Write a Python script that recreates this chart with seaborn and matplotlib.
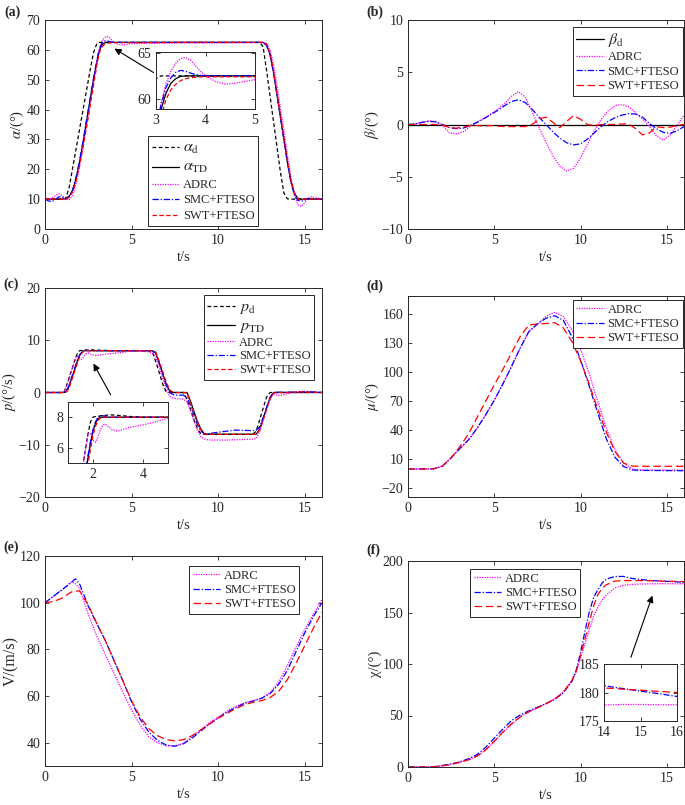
import numpy as np
import pandas as pd
import matplotlib
matplotlib.use("Agg")
import matplotlib.pyplot as plt
import seaborn as sns

# ---------------- data ----------------
# (a) angle of attack
t_a = [0, 0.2, 0.4, 0.6, 0.8, 1.0, 1.2, 1.4, 1.6, 1.8, 2.0, 2.2, 2.4, 2.6, 2.8, 3.0,
       3.1, 3.2, 3.3, 3.4, 3.5, 3.6, 3.7, 3.8, 3.9, 4.0,
       4.2, 4.4, 4.6, 4.8, 5.0, 6.0, 8.0, 10.0, 12.0,
       12.4, 12.6, 12.8, 13.0, 13.2, 13.4, 13.6, 13.8, 14.0, 14.2, 14.4, 14.6, 14.8,
       15.0, 15.2, 15.4, 15.6, 16.0]
alpha_d = [10, 10, 10, 10, 10, 10, 10.3, 14, 20.5, 27, 33.5, 40, 46.5, 53, 59, 62.2,
           62.5, 62.5, 62.5, 62.5, 62.5, 62.5, 62.5, 62.5, 62.5, 62.5,
           62.5, 62.5, 62.5, 62.5, 62.5, 62.5, 62.5, 62.5, 62.5,
           62.5, 61, 53, 44.5, 36, 27.5, 19, 12, 10.1, 10, 10, 10, 10,
           10, 10, 10, 10, 10]
alpha_TD = [10, 10, 10, 10, 10, 10, 10.2, 11, 13, 17, 22.5, 29, 36, 43, 50, 56,
            58.8, 60.6, 61.7, 62.2, 62.45, 62.5, 62.5, 62.5, 62.5, 62.5,
            62.5, 62.5, 62.5, 62.5, 62.5, 62.5, 62.5, 62.5, 62.5,
            62.5, 62.5, 61.6, 58.5, 52.5, 45, 37.5, 30, 22.5, 16, 12, 10.3, 10,
            10, 10, 10, 10, 10]
alpha_adrc = [10, 10, 10.3, 11.2, 11.8, 11.2, 10.0, 9.8, 11.3, 15.3, 21, 27.5, 34.5, 41.5, 49, 56.5,
              59.5, 61.6, 63.0, 63.9, 64.4, 64.5, 64.2, 63.6, 63.0, 62.5,
              61.9, 61.6, 61.7, 61.9, 62.1, 62.2, 62.3, 62.3, 62.4,
              62.5, 62.5, 62.0, 60, 55, 48, 40.5, 33, 25, 17.5, 11.5, 8.2, 7.5,
              8.8, 10.4, 10.8, 10.5, 10]
alpha_smc = [10, 9.4, 9.2, 9.9, 10.8, 10.7, 10.0, 10.9, 13.2, 17.5, 23, 29.5, 36.5, 43.5, 50.5, 56.5,
             59.3, 61.2, 62.3, 62.9, 63.1, 63.0, 62.8, 62.65, 62.55, 62.5,
             62.5, 62.5, 62.5, 62.5, 62.5, 62.5, 62.5, 62.5, 62.5,
             62.5, 62.4, 61.5, 58.3, 52.3, 44.8, 37.3, 29.8, 22.3, 15.8, 11.5, 9.6, 9.3,
             9.7, 10.2, 10.1, 10, 10]
alpha_swt = [10, 10, 10, 10, 10, 10, 10.0, 10.6, 12.5, 16.2, 21.3, 27.5, 34, 41, 48, 55,
             58.0, 59.9, 61.0, 61.6, 62.0, 62.2, 62.3, 62.35, 62.4, 62.4,
             62.4, 62.4, 62.4, 62.4, 62.4, 62.45, 62.5, 62.5, 62.5,
             62.5, 62.5, 62.0, 59, 53, 45.5, 38, 30.5, 23, 16.5, 12.3, 10.2, 9.8,
             10, 10, 10, 10, 10]

# (b) sideslip angle
t_b = [0, 0.4, 0.8, 1.2, 1.6, 2.0, 2.4, 2.8, 3.2, 3.6, 4.0, 4.4, 4.8, 5.2, 5.6, 6.0,
       6.4, 6.8, 7.2, 7.6, 8.0, 8.4, 8.8, 9.2, 9.6, 10.0, 10.4, 10.8, 11.2, 11.6,
       12.0, 12.4, 12.8, 13.2, 13.6, 14.0, 14.4, 14.8, 15.2, 15.6, 16.0]
t_bd = [0, 16]
beta_d = [0, 0]
beta_adrc = [0, 0.05, 0.2, 0.35, 0.3, -0.1, -0.8, -0.9, -0.7, -0.2, 0.25, 0.6, 1.0, 1.45, 2.0, 2.7,
             3.15, 2.6, 1.2, -0.3, -1.7, -3.0, -4.0, -4.45, -4.2, -3.2, -1.9, -0.6, 0.5, 1.3,
             1.8, 1.9, 1.7, 1.1, 0.5, -0.2, -1.1, -1.5, -1.0, -0.1, 0.9]
beta_smc = [0, 0.05, 0.2, 0.3, 0.25, 0.0, -0.3, -0.4, -0.35, -0.1, 0.2, 0.55, 0.95, 1.35, 1.8, 2.2,
            2.37, 2.1, 1.45, 0.7, 0.0, -0.7, -1.3, -1.75, -1.95, -1.85, -1.4, -0.8, -0.2, 0.3,
            0.65, 0.9, 1.03, 1.0, 0.7, 0.1, -0.4, -0.75, -0.85, -0.6, -0.2]
beta_swt = [0, 0, 0, 0, 0, -0.05, -0.3, -0.35, -0.25, -0.1, -0.1, -0.15, -0.1, -0.15, -0.2, -0.2,
            -0.2, -0.2, 0.0, 0.55, 0.7, 0.2, -0.3, 0.3, 0.85, 0.5, 0.0, -0.1, 0.0, 0.0,
            0.0, 0.05, 0.05, -0.4, -1.0, -0.8, -0.2, -0.3, -0.25, -0.1, 0.0]

# (c) roll rate
t_c = [0, 0.5, 1.0, 1.1, 1.2, 1.3, 1.4, 1.5, 1.6, 1.7, 1.8, 1.9, 2.0, 2.1, 2.2, 2.3, 2.4, 2.5, 2.6,
       2.8, 3.0, 3.2, 3.5, 4.0, 4.5, 5.0, 5.5, 6.0,
       6.2, 6.4, 6.6, 6.8, 7.0, 7.2, 7.4, 7.6, 7.8, 8.0, 8.2, 8.4, 8.6, 8.8, 9.0, 9.2, 9.4, 9.6,
       10.0, 10.5, 11.0, 11.5, 12.0,
       12.2, 12.4, 12.6, 12.8, 13.0, 13.2, 13.4, 13.6,
       14.0, 14.5, 15.0, 15.5, 16.0]
p_d = [0, 0, 0, 0.1, 0.9, 1.9, 2.9, 3.9, 4.9, 5.9, 6.9, 7.7, 8.0, 8.05, 8.05, 8.1, 8.1, 8.12, 8.15,
       8.15, 8.12, 8.1, 8.05, 8.0, 8.0, 8.0, 8.0, 8.0,
       7.8, 5.9, 3.8, 1.6, 0.1, 0, 0, 0, 0, 0, -1.3, -3.2, -5.2, -6.9, -7.9, -8.0, -8.0, -8.0,
       -8, -8, -8, -8, -8,
       -7.4, -5.2, -3.0, -0.9, 0, 0, 0, 0,
       0, 0, 0, 0, 0]
p_TD = [0, 0, 0, 0, 0.1, 0.5, 1.3, 2.3, 3.3, 4.3, 5.3, 6.3, 7.1, 7.6, 7.9, 8.0, 8.0, 8.0, 8.0,
        8.0, 8.0, 8.0, 8.0, 8.0, 8.0, 8.0, 8.0, 8.0,
        8.0, 7.5, 5.6, 3.6, 1.6, 0.3, 0, 0, 0, 0, 0, -1.6, -3.6, -5.5, -7.0, -7.9, -8.0, -8.0,
        -8, -8, -8, -8, -8,
        -8, -7.0, -5.0, -3.0, -1.0, 0, 0, 0,
        0, 0, 0, 0, 0]
p_adrc = [0, 0, 0, 0.1, 0.7, 1.7, 2.8, 3.9, 4.9, 5.9, 6.9, 6.9, 6.5, 6.35, 6.7, 7.2, 7.5, 7.55, 7.4,
          7.15, 7.1, 7.2, 7.35, 7.5, 7.7, 7.95, 7.95, 7.75,
          7.5, 6.8, 4.8, 2.6, 0.6, -0.7, -1.1, -1.2, -1.2, -1.3, -1.8, -3.5, -5.4, -7.2, -8.4, -8.9, -9.05, -9.1,
          -9.1, -9.1, -9.05, -9.0, -8.9,
          -8.8, -7.5, -5.4, -3.3, -1.3, -0.3, -0.5, -0.6,
          -0.2, 0.1, 0.1, 0.05, 0]
p_smc = [0, 0, 0, 0, 0.2, 0.7, 1.5, 2.5, 3.5, 4.5, 5.5, 6.4, 7.2, 7.7, 8.0, 8.1, 8.1, 8.05, 8.0,
         8.0, 8.0, 8.0, 8.0, 8.0, 8.0, 8.0, 8.0, 8.0,
         7.95, 7.6, 5.7, 3.6, 1.4, 0.0, -0.4, -0.5, -0.5, -0.5, -1.0, -2.4, -4.3, -6.1, -7.4, -7.9, -7.9, -7.8,
         -7.6, -7.4, -7.2, -7.25, -7.3,
         -7.2, -6.6, -4.8, -2.8, -0.9, 0, 0.05, 0.05,
         0.05, 0.1, 0.2, 0.1, 0.05]
p_swt = [0, 0, 0, 0, 0.05, 0.3, 1.0, 1.9, 2.9, 3.9, 4.9, 5.9, 6.8, 7.4, 7.8, 7.95, 8.0, 8.0, 8.0,
         8.0, 8.0, 8.0, 8.0, 8.0, 8.0, 8.0, 8.0, 8.0,
         8.0, 7.7, 6.0, 4.0, 2.0, 0.5, 0.05, 0, 0, 0, -0.1, -1.8, -3.8, -5.7, -7.2, -7.9, -8.0, -8.0,
         -8, -8, -8, -8, -8,
         -8.0, -7.2, -5.3, -3.2, -1.2, -0.1, 0, 0,
         0, 0.1, 0.15, 0.05, 0]

# (d) bank angle
t_d = [0, 0.5, 1, 1.5, 2, 2.5, 3, 3.5, 4, 4.5, 5, 5.5, 6, 6.5, 7, 7.5, 8, 8.5,
       9, 9.5, 10, 10.5, 11, 11.5, 12, 12.5, 13, 13.5, 14, 14.5, 15, 15.5, 16]
mu_adrc = [0, 0, 0, 0.2, 3, 11.5, 21, 30, 42, 56, 71, 88, 106, 125, 142, 150, 158, 162,
           158, 144, 124, 99, 70, 42, 20, 6, 0, -1, -1.2, -1.2, -1.2, -1.2, -1.2]
mu_smc = [0, 0, 0, 0.2, 3, 11.5, 21, 30, 42, 56, 71, 88, 106, 125, 142, 150, 156, 158.5,
          154, 137, 113, 86, 58, 31, 12, 2.5, -1, -1.5, -1.5, -1.6, -1.7, -1.7, -1.8]
mu_swt = [0, 0, 0, 0.2, 3, 11.5, 23, 36, 53, 70, 87, 103, 120, 137, 149, 150, 150.5, 151.5,
          146, 132, 112, 88, 62, 38, 18, 6, 3, 2.8, 2.8, 2.8, 2.8, 2.8, 2.8]

# (e) velocity
t_e = [0, 0.5, 1, 1.5, 1.75, 2, 2.5, 3, 3.5, 4, 4.5, 5, 5.5, 6, 6.5, 7, 7.5, 8, 8.5,
       9, 9.5, 10, 10.5, 11, 11.5, 12, 12.5, 13, 13.5, 14, 14.5, 15, 15.5, 16]
V_adrc = [100, 102.8, 105.6, 108.8, 108.3, 106, 95, 85.5, 77.5, 69.5, 61.5, 54, 47.5, 42.5, 40,
          38.6, 38.5, 39.8, 42.5, 45.5, 48.5, 51, 53.5, 55.5, 57, 58, 59, 61.5, 66, 73, 81,
          88.5, 95, 101.5]
V_smc = [100, 102.8, 105.6, 108.5, 110.2, 108, 98.5, 91, 83.5, 75, 66.5, 57.5, 50, 44.5, 41,
         39, 38.5, 39.5, 42, 45, 48, 50.5, 53, 55, 56.8, 57.8, 59, 61, 65, 71, 79,
         87, 94, 100]
V_swt = [100, 100.5, 102, 104.5, 105, 105, 99, 91, 83.5, 75, 66.5, 58, 51, 46, 43,
         41.3, 40.8, 41.3, 43, 45.5, 48, 50.5, 52.5, 54.5, 56.2, 57.3, 58, 59.3, 62, 67, 74,
         81.5, 89, 96]

# (f) heading angle
t_f = [0, 0.5, 1, 1.5, 2, 2.5, 3, 3.5, 4, 4.5, 5, 5.5, 6, 6.5, 7, 7.5, 8, 8.5, 9,
       9.5, 9.75, 10, 10.25, 10.5, 10.75, 11, 11.25, 11.5,
       12, 12.5, 13, 13.5, 14, 14.5, 15, 15.5, 16]
chi_adrc = [0, 0, 0, 0.2, 1.2, 2.5, 4.5, 7, 10.5, 16.5, 24.5, 33.5, 41.5, 48.5, 53.5, 57.5, 61.5, 66, 72.5,
            84, 92, 106, 119, 133, 146, 155, 162, 167,
            174, 176.5, 177.3, 177.7, 177.8, 177.9, 177.9, 177.85, 177.85]
chi_smc = [0, 0, 0, 0.3, 1.5, 3, 5, 8, 12, 19, 28, 37, 45, 50.5, 54.5, 58, 61.5, 65.5, 72,
           83, 94, 111, 131, 150, 164, 172, 178.5, 182.5,
           185, 185, 183, 182, 181.2, 180.7, 180.25, 179.8, 179.3]
chi_swt = [0, 0, 0, 0.2, 1.2, 2.5, 4.5, 7, 10.5, 16.5, 25, 34, 42, 48.5, 53.5, 57.5, 61.5, 66, 72.5,
           84, 93, 108, 124, 140, 156, 167, 173.5, 177,
           180.5, 181, 181, 181, 180.8, 180.6, 180.4, 180.2, 180.0]

# ---------------- style ----------------
sns.set_theme(style="ticks")
plt.rcParams.update({
    "font.family": ["Liberation Serif", "DejaVu Serif"],
    "mathtext.fontset": "stix",
    "font.size": 10,
    "axes.linewidth": 0.7,
    "axes.edgecolor": "#262626",
    "xtick.direction": "in",
    "ytick.direction": "in",
    "xtick.top": True,
    "ytick.right": True,
    "xtick.major.size": 3,
    "ytick.major.size": 3,
    "xtick.major.width": 0.6,
    "ytick.major.width": 0.6,
    "xtick.labelsize": 10,
    "ytick.labelsize": 10,
    "xtick.color": "#262626",
    "ytick.color": "#262626",
    "axes.labelsize": 10.5,
    "axes.labelcolor": "#262626",
})

LW = 0.9
S_D = dict(color="black", linestyle=(0, (3, 2)), linewidth=LW)
S_TD = dict(color="black", linestyle="-", linewidth=LW)
S_ADRC = dict(color="#FF00FF", linestyle=(0, (1, 1)), linewidth=LW)
S_SMC = dict(color="#0000FF", linestyle=(0, (5, 1.5, 1, 1.5)), linewidth=LW)
S_SWT = dict(color="#FF0000", linestyle=(0, (3.5, 2)), linewidth=LW)
S_SWT2 = dict(color="#FF0000", linestyle=(0, (6, 3)), linewidth=LW)

W, H = 685, 805
fig = plt.figure(figsize=(W / 100, H / 100), dpi=100)


def fax(l, t, r, b):
    return fig.add_axes([l / W, 1 - b / H, (r - l) / W, (b - t) / H])


def draw(ax, entries):
    handles = []
    for x, y, sty in entries:
        n = len(ax.lines)
        sns.lineplot(x=x, y=y, ax=ax, legend=False, **sty)
        handles.append(ax.lines[n])
    return handles


def legend(ax, handles, labels, x, y, loc="upper left", big=(), spacing=0.18):
    leg = ax.legend(handles, labels, loc=loc, bbox_to_anchor=(x / W, 1 - y / H),
                    bbox_transform=fig.transFigure, frameon=True, fancybox=False,
                    edgecolor="#262626", framealpha=1, fontsize=9, handlelength=2.2,
                    borderpad=0.3, labelspacing=spacing, handletextpad=0.3, borderaxespad=0)
    leg.get_frame().set_linewidth(0.7)
    for i in big:
        leg.get_texts()[i].set_fontsize(11.5)
    return leg


def panel_label(txt, x, y):
    fig.text(x / W, 1 - y / H, txt, fontweight="bold", fontsize=10, va="center", ha="left")


def common(ax, ylim, yticks, ylabel):
    ax.set_xlim(0, 16)
    ax.set_xticks([0, 5, 10, 15])
    ax.set_ylim(*ylim)
    ax.set_yticks(yticks)
    ax.set_xlabel("t/s", labelpad=3)
    ax.set_ylabel(ylabel, labelpad=0)


# ---------- (a) ----------
ax = fax(45, 20, 322, 229)
ents_a = [(t_a, alpha_d, S_D), (t_a, alpha_TD, S_TD), (t_a, alpha_adrc, S_ADRC),
          (t_a, alpha_smc, S_SMC), (t_a, alpha_swt, S_SWT)]
h = draw(ax, ents_a)
common(ax, (0, 70), range(0, 71, 10), r"$\alpha$/(°)")
legend(ax, h, [r"$\alpha_{\rm d}$", r"$\alpha_{\rm TD}$", "ADRC", "SMC+FTESO", "SWT+FTESO"],
       148, 136, big=(0, 1), spacing=0.28)
ax.annotate("", xy=(3.87, 60.9), xytext=(6.41, 51.9),
            arrowprops=dict(arrowstyle="-|>", color="black", lw=0.8, mutation_scale=10))
panel_label("(a)", 4, 12)
ins = fax(156, 52, 255, 109)
draw(ins, ents_a)
ins.set_xlim(3, 5)
ins.set_ylim(58.9, 65.1)
ins.set_xticks([3, 4, 5])
ins.set_yticks([60, 65])

# ---------- (b) ----------
ax = fax(408, 20, 684, 229)
h = draw(ax, [(t_bd, beta_d, S_TD), (t_b, beta_adrc, S_ADRC),
              (t_b, beta_smc, S_SMC), (t_b, beta_swt, S_SWT2)])
common(ax, (-10, 10), [-10, -5, 0, 5, 10], r"$\beta$/(°)")
legend(ax, h, [r"$\beta_{\rm d}$", "ADRC", "SMC+FTESO", "SWT+FTESO"], 683, 27,
       loc="upper right", big=(0,), spacing=0.2)
panel_label("(b)", 366, 12)

# ---------- (c) ----------
ax = fax(45, 288, 322, 497)
ents_c = [(t_c, p_d, S_D), (t_c, p_TD, S_TD), (t_c, p_adrc, S_ADRC),
          (t_c, p_smc, S_SMC), (t_c, p_swt, S_SWT)]
h = draw(ax, ents_c)
common(ax, (-20, 20), [-20, -10, 0, 10, 20], r"$p$/(°/s)")
legend(ax, h, [r"$p_{\rm d}$", r"$p_{\rm TD}$", "ADRC", "SMC+FTESO", "SWT+FTESO"],
       314, 295, loc="upper right", big=(0, 1), spacing=0.15)
ax.annotate("", xy=(2.72, 6.0), xytext=(3.87, -0.9),
            arrowprops=dict(arrowstyle="-|>", color="black", lw=0.8, mutation_scale=10))
panel_label("(c)", 3, 284)
ins = fax(68, 402, 168, 463)
draw(ins, ents_c)
ins.set_xlim(1, 5)
ins.set_ylim(5, 9)
ins.set_xticks([2, 4])
ins.set_yticks([6, 8])

# ---------- (d) ----------
ax = fax(408, 296, 684, 497)
h = draw(ax, [(t_d, mu_adrc, S_ADRC), (t_d, mu_smc, S_SMC), (t_d, mu_swt, S_SWT2)])
common(ax, (-29, 179), [-20, 10, 40, 70, 100, 130, 160], r"$\mu$/(°)")
legend(ax, h, ["ADRC", "SMC+FTESO", "SWT+FTESO"], 683, 300, loc="upper right")
panel_label("(d)", 366, 286)

# ---------- (e) ----------
ax = fax(45, 556, 322, 766)
h = draw(ax, [(t_e, V_adrc, S_ADRC), (t_e, V_smc, S_SMC), (t_e, V_swt, S_SWT2)])
common(ax, (30, 120), [40, 60, 80, 100, 120], "V/(m/s)")
ax.yaxis.label.set_fontsize(11.5)
legend(ax, h, ["ADRC", "SMC+FTESO", "SWT+FTESO"], 189, 566)
panel_label("(e)", 3, 547)

# ---------- (f) ----------
ax = fax(408, 561, 684, 767)
ents_f = [(t_f, chi_adrc, S_ADRC), (t_f, chi_smc, S_SMC), (t_f, chi_swt, S_SWT2)]
h = draw(ax, ents_f)
common(ax, (0, 200), [0, 50, 100, 150, 200], "χ/(°)")
legend(ax, h, ["ADRC", "SMC+FTESO", "SWT+FTESO"], 470, 569)
ax.annotate("", xy=(14.22, 169), xytext=(12.87, 104),
            arrowprops=dict(arrowstyle="-|>", color="black", lw=0.8, mutation_scale=10))
panel_label("(f)", 366, 550)
ins = fax(604, 664, 677, 721)
draw(ins, ents_f)
ins.set_xlim(14, 16)
ins.set_ylim(175, 185)
ins.set_xticks([14, 15, 16])
ins.set_yticks([175, 180, 185])

fig.savefig("out.png", dpi=100)
